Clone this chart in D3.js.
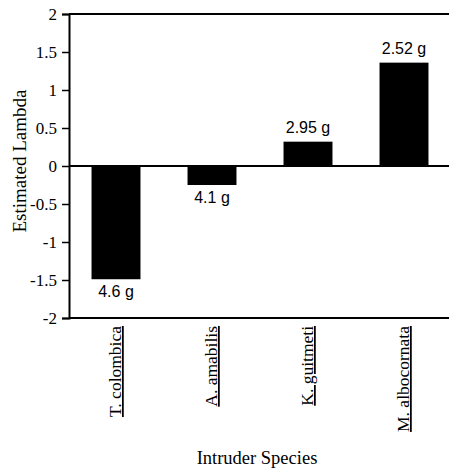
<!DOCTYPE html>
<html>
<head>
<meta charset="utf-8">
<script src="https://cdn.jsdelivr.net/npm/d3@7"></script>
<style>
  body { margin: 0; background: #fff; }
  svg { display: block; }
</style>
</head>
<body>
<div id="chart"></div>
<script>
"use strict";

const species = ['T. colombica', 'A. amabilis', 'K. guitmeti', 'M. albocornata']
const lambda = [-1.49, -0.25, 0.32, 1.36]
const massLabels = ['4.6 g', '4.1 g', '2.95 g', '2.52 g']
const yTicks = [-2, -1.5, -1, -0.5, 0, 0.5, 1, 1.5, 2]

const d = {
  WIDTH: 449,
  HEIGHT: 473,
  LEFT: 69,
  TOP: 14,
  BOTTOM: 318,
  RIGHT: 449,
}

const serif = '"Liberation Serif", "Times New Roman", serif'
const sans = '"Liberation Sans", Arial, sans-serif'

const svg = d3.select('#chart')
  .append('svg')
    .attr('width', d.WIDTH)
    .attr('height', d.HEIGHT)

const x = d3.scaleBand()
  .domain(species)
  .range([68, 452])
  .paddingInner(0.49)
  .paddingOuter(0.245)

const y = d3.scaleLinear()
  .domain([-2, 2])
  .range([d.BOTTOM, d.TOP])

// y axis with ticks
const yAxis = d3.axisLeft(y)
  .tickValues(yTicks)
  .tickSize(7)
  .tickPadding(5)

const yG = svg.append('g')
  .attr('transform', `translate(${d.LEFT},0)`)
  .call(yAxis)
  .attr('font-family', null)
  .attr('font-size', null)

yG.select('.domain').attr('stroke', '#000').attr('stroke-width', 2)
yG.selectAll('.tick line').attr('stroke', '#000').attr('stroke-width', 1.5)
yG.selectAll('.tick text')
  .style('font-family', serif)
  .style('font-size', '17px')
  .attr('fill', '#000')
  .text(v => v < 0 ? '-' + Math.abs(v) : v)

// top, zero and bottom rules
svg.selectAll('line.rule')
  .data([2, 0, -2])
  .enter()
  .append('line')
    .attr('class', 'rule')
    .attr('x1', d.LEFT)
    .attr('x2', d.RIGHT)
    .attr('y1', v => y(v))
    .attr('y2', v => y(v))
    .attr('stroke', '#000')
    .attr('stroke-width', 2)

// bars
svg.selectAll('rect.bar')
  .data(lambda)
  .enter()
  .append('rect')
    .attr('class', 'bar')
    .attr('x', (v, i) => x(species[i]))
    .attr('y', v => y(Math.max(0, v)))
    .attr('width', x.bandwidth())
    .attr('height', v => Math.abs(y(v) - y(0)))
    .attr('fill', '#000')

// mass labels
svg.selectAll('text.mass')
  .data(lambda)
  .enter()
  .append('text')
    .attr('class', 'mass')
    .attr('x', (v, i) => x(species[i]) + x.bandwidth() / 2)
    .attr('y', v => v < 0 ? y(v) + 18 : y(v) - 9)
    .attr('text-anchor', 'middle')
    .style('font-family', sans)
    .style('font-size', '16px')
    .text((v, i) => massLabels[i])

// rotated species names, underlined
svg.selectAll('text.species')
  .data(species)
  .enter()
  .append('text')
    .attr('class', 'species')
    .attr('transform', s => `translate(${x(s) + x.bandwidth() / 2 + 5},326) rotate(-90)`)
    .attr('text-anchor', 'end')
    .style('font-family', serif)
    .style('font-size', '17.5px')
    .style('text-decoration', 'underline')
    .text(s => s)

// axis titles
svg.append('text')
  .attr('transform', 'translate(26,161) rotate(-90)')
  .attr('text-anchor', 'middle')
  .style('font-family', serif)
  .style('font-size', '19px')
  .text('Estimated Lambda')

svg.append('text')
  .attr('x', 257)
  .attr('y', 464)
  .attr('text-anchor', 'middle')
  .style('font-family', serif)
  .style('font-size', '18.5px')
  .text('Intruder Species')
</script>
</body>
</html>
